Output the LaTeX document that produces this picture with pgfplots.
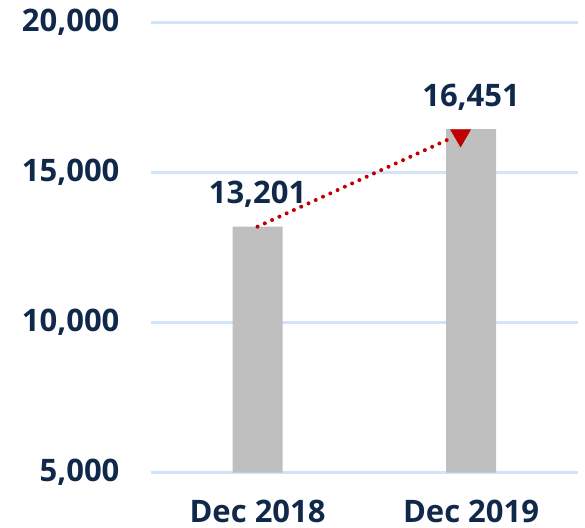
\documentclass[border=0pt]{standalone}
\usepackage{fontspec}
\setmainfont{Open Sans}
\usepackage{pgfplots}
\pgfplotsset{compat=1.18}

\definecolor{navy}{HTML}{10294B}
\definecolor{barGray}{HTML}{BFBFBF}
\definecolor{gridBlue}{HTML}{D3E4F8}
\definecolor{arrowRed}{HTML}{C00000}

\begin{document}
\begin{tikzpicture}
% frame of the whole picture (reference is 585x528 px, 1 px = 0.5pt)
\path[use as bounding box] (-75.4pt,-27.65pt) rectangle (217.1pt,236.35pt);
\begin{axis}[
    scale only axis,
    width=213.5pt, height=225pt,
    xmin=-0.5, xmax=1.5,
    ymin=5000, ymax=20000,
    scaled y ticks=false,
    axis line style={draw=none},
    major tick length=0pt,
    ymajorgrids,
    grid style={color=gridBlue, line width=1.3pt},
    ytick={5000,10000,15000,20000},
    yticklabels={{5,000},{10,000},{15,000},{20,000}},
    xtick={0,1},
    xticklabels={Dec 2018, Dec 2019},
    ticklabel style={font=\fontsize{15.5}{18}\selectfont\bfseries, text=navy},
    yticklabel style={anchor=east, inner sep=0pt, xshift=-15.5pt},
    xticklabel style={anchor=base, inner sep=0pt, yshift=-25pt},
    clip=false,
]
\addplot[ybar, bar width=25pt, fill=barGray, draw=none,
    nodes near coords={\pgfmathprintnumber[assume math mode=true, fixed, 1000 sep={,}]{\pgfplotspointmeta}},
    nodes near coords style={font=\fontsize{15.5}{18}\selectfont\bfseries, text=navy, anchor=base, inner sep=0pt, yshift=11.5pt},
] coordinates {(0,13201) (1,16451)};
% dotted trend line
\addplot[arrowRed, line width=2pt, line cap=round, dash pattern=on 0pt off 4pt]
    coordinates {(0,13201) (0.905,16147)};
% arrow head
\addplot[only marks, mark=triangle*, mark size=5.6pt, color=arrowRed,
    mark options={rotate=180}] coordinates {(0.951,16240)};
\end{axis}
\end{tikzpicture}
\end{document}
